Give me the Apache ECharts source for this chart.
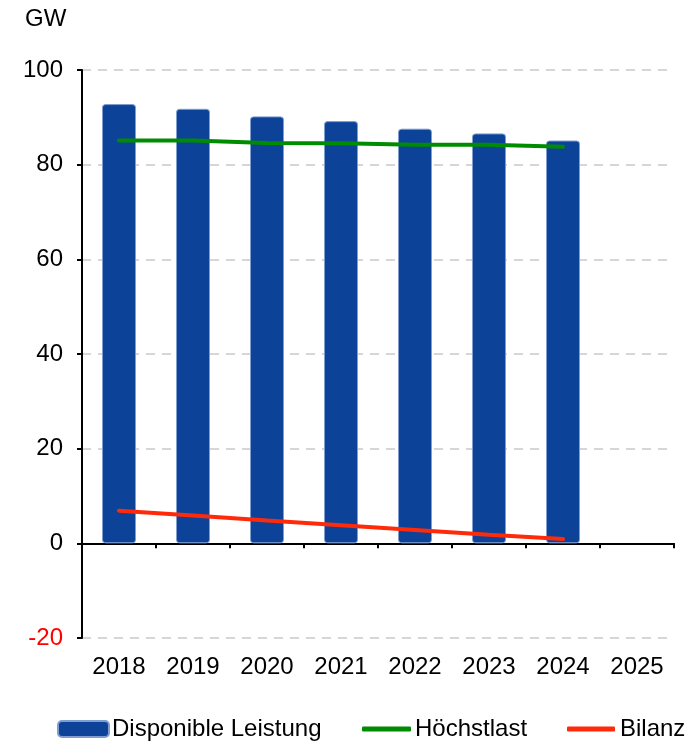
<!DOCTYPE html>
<html><head><meta charset="utf-8">
<script src="https://cdn.jsdelivr.net/npm/echarts@6/dist/echarts.min.js"></script>
<style>html,body{margin:0;padding:0;background:#fff}#c{width:696px;height:745px}</style>
</head><body><div id="c"></div>
<script>
const categories = ['2018','2019','2020','2021','2022','2023','2024','2025'];
const disponible = [92.8, 91.8, 90.2, 89.2, 87.6, 86.6, 85.1, null];
const hoechstlast = [85.1, 85.1, 84.6, 84.5, 84.2, 84.2, 83.8, null];
const bilanz = [6.9, 5.9, 4.8, 3.8, 2.8, 1.8, 0.9, null];
const yTicks = [-20, 0, 20, 40, 60, 80, 100];

const FONT = 'Liberation Sans, Arial, sans-serif';
const FS = 24;
const chart = echarts.init(document.getElementById('c'));
chart.setOption({
  animation: false,
  textStyle: {fontFamily: FONT},
  title: {text: 'GW', left: 25, top: 7, padding: 0, textStyle: {fontFamily: FONT, fontSize: FS, fontWeight: 'normal', color: '#000'}},
  grid: {left: 82, right: 22, top: 70, bottom: 107},
  legend: [
    {data: [{name: 'Disponible Leistung', icon: 'roundRect'}], left: 57, top: 717, padding: 0, itemWidth: 51, itemHeight: 16, itemGap: 0,
     textStyle: {fontFamily: FONT, fontSize: FS, color: '#000', padding: [0,0,0,-2]}},
    {data: [{name: 'Höchstlast', icon: 'roundRect'}], left: 362, top: 717, padding: 0, itemWidth: 49, itemHeight: 5, itemGap: 0,
     textStyle: {fontFamily: FONT, fontSize: FS, color: '#000', padding: [0,0,0,-1]}},
    {data: [{name: 'Bilanz', icon: 'roundRect'}], left: 567, top: 717, padding: 0, itemWidth: 48, itemHeight: 5, itemGap: 0,
     textStyle: {fontFamily: FONT, fontSize: FS, color: '#000', padding: [0,0,0,0]}}
  ],
  xAxis: [
    {type: 'category', data: categories, axisLine: {onZero: true, lineStyle: {color: '#000', width: 2}},
     axisTick: {show: true, length: 5, lineStyle: {color: '#000', width: 2}}, axisLabel: {show: false}, splitLine: {show: false}},
    {type: 'category', data: categories, position: 'bottom', axisLine: {show: false, onZero: false}, axisTick: {show: false},
     axisLabel: {fontFamily: FONT, fontSize: FS, color: '#000', margin: 17}}
  ],
  yAxis: {type: 'value', min: -20, max: 100, interval: 20,
    axisLine: {show: true, lineStyle: {color: '#000', width: 2}},
    axisTick: {show: true, length: 5, lineStyle: {color: '#000', width: 2}},
    axisLabel: {fontFamily: FONT, fontSize: FS, margin: 19, formatter: v => String(v),
      color: v => (Number(v) < 0 ? '#ff0000' : '#000')},
    splitLine: {show: true, lineStyle: {color: '#d6d6d6', type: [9, 7], width: 2}}
  },
  series: [
    {name: 'Disponible Leistung', type: 'bar', data: disponible, barWidth: 34, xAxisIndex: 0,
     itemStyle: {color: '#0c4399', borderColor: '#7f9dd0', borderWidth: 1, borderRadius: 3}, z: 2},
    {name: 'Höchstlast', type: 'line', data: hoechstlast, xAxisIndex: 0, showSymbol: false, symbol: 'none',
     lineStyle: {color: '#008c00', width: 4, cap: 'round'}, itemStyle: {color: '#008c00'}, z: 3},
    {name: 'Bilanz', type: 'line', data: bilanz, xAxisIndex: 0, showSymbol: false, symbol: 'none',
     lineStyle: {color: '#ff2a0a', width: 4, cap: 'round'}, itemStyle: {color: '#ff2a0a'}, z: 3}
  ]
});
</script></body></html>
